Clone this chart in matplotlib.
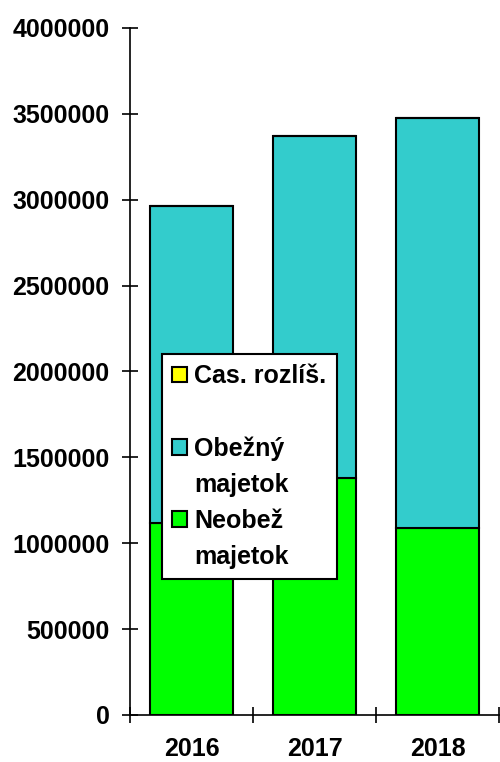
import matplotlib.pyplot as plt
from matplotlib.patches import Patch
from matplotlib.ticker import FixedLocator, FuncFormatter

# data
years = ['2016', '2017', '2018']
neobezny = [1115000, 1380000, 1090000]
obezny = [1849000, 1991000, 2386000]
cas_rozlis = [0, 0, 0]
y_ticks = [0, 500000, 1000000, 1500000, 2000000, 2500000, 3000000, 3500000, 4000000]

plt.rcParams['font.family'] = 'Liberation Sans'
plt.rcParams['font.weight'] = 'bold'

fig = plt.figure(figsize=(5, 7.62), dpi=100)
ax = fig.add_axes([0.26, 0.0617, 0.738, 0.9016])

x = list(range(len(years)))
w = 0.675
bottom2 = [a + b for a, b in zip(neobezny, obezny)]
ax.bar(x, neobezny, w, color='#00FF00', edgecolor='black', linewidth=1.5, zorder=2)
ax.bar(x, obezny, w, bottom=neobezny, color='#33CCCC', edgecolor='black', linewidth=1.5, zorder=2)
ax.bar(x, cas_rozlis, w, bottom=bottom2, color='#FFFF00', edgecolor='black', linewidth=1.5, zorder=2)

ax.set_xlim(-0.5, len(years) - 0.5)
ax.set_ylim(0, 4000000)
ax.spines['top'].set_visible(False)
ax.spines['right'].set_visible(False)
ax.spines['left'].set_linewidth(1.2)
ax.spines['bottom'].set_linewidth(1.2)

ax.yaxis.set_major_locator(FixedLocator(y_ticks))
ax.yaxis.set_major_formatter(FuncFormatter(lambda v, p: '%d' % v))
ax.tick_params(axis='y', direction='inout', length=11.5, width=1.2, pad=9, labelsize=18)

# category boundaries as major ticks, labels on minor ticks
ax.xaxis.set_major_locator(FixedLocator([i - 0.5 for i in range(len(years) + 1)]))
ax.xaxis.set_major_formatter(FuncFormatter(lambda v, p: ''))
ax.xaxis.set_minor_locator(FixedLocator(x))
ax.set_xticklabels(years, minor=True)
ax.tick_params(axis='x', which='major', direction='inout', length=11.5, width=1.2)
ax.tick_params(axis='x', which='minor', length=0, pad=16, labelsize=18)

blank = Patch(visible=False)
handles = [Patch(facecolor='#FFFF00', edgecolor='black', linewidth=1.5), blank,
           Patch(facecolor='#33CCCC', edgecolor='black', linewidth=1.5), blank,
           Patch(facecolor='#00FF00', edgecolor='black', linewidth=1.5), blank]
labels = ['Cas. rozlíš.', ' ', 'Obežný', 'majetok', 'Neobež', 'majetok']
leg = ax.legend(handles, labels, loc='upper left', bbox_to_anchor=(0.0867, 0.525),
                fancybox=False, framealpha=1, edgecolor='black', fontsize=18,
                handlelength=0.6, handleheight=0.6, handletextpad=0.3,
                labelspacing=0.48, borderpad=0.4, borderaxespad=0)
leg.get_frame().set_linewidth(1.5)

fig.savefig('out.png', dpi=100)
